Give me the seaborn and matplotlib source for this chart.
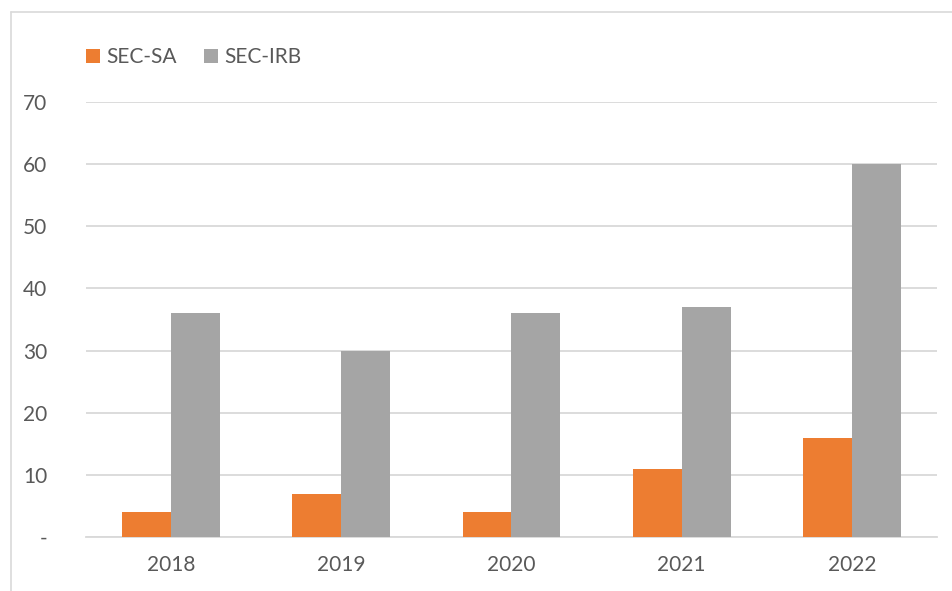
import matplotlib
matplotlib.use("Agg")
import matplotlib.pyplot as plt
import pandas as pd
import seaborn as sns
from matplotlib.lines import Line2D
from matplotlib.patches import Patch
from matplotlib.ticker import FuncFormatter

years = ["2018", "2019", "2020", "2021", "2022"]
series_names = ["SEC-SA", "SEC-IRB"]
sec_sa = [4, 7, 4, 11, 16]
sec_irb = [36, 30, 36, 37, 60]
colors = ["#ED7D31", "#A5A5A5"]

df = pd.DataFrame({
    "year": years * 2,
    "series": [series_names[0]] * len(years) + [series_names[1]] * len(years),
    "value": sec_sa + sec_irb,
})

sns.set_theme(style="white")
plt.rcParams["font.family"] = ["Lato", "DejaVu Sans"]
text_color = "#595959"
grid_color = "#D9D9D9"

W, H = 953, 591
fig = plt.figure(figsize=(W / 100, H / 100), dpi=100)
ax = fig.add_axes([86 / W, 1 - 537 / H, (937 - 86) / W, (537 - 102) / H])

sns.barplot(data=df, x="year", y="value", hue="series", palette=colors,
            width=0.575, saturation=1, linewidth=0, ax=ax, legend=False, zorder=3)

ax.set_ylim(0, 70)
ax.set_yticks(range(0, 71, 10))
ax.yaxis.set_major_formatter(FuncFormatter(lambda v, _: "-" if v == 0 else f"{v:.0f}"))
ax.grid(axis="y", color=grid_color, linewidth=1.3, zorder=0)
ax.set_axisbelow(True)
for side in ["top", "right", "left"]:
    ax.spines[side].set_visible(False)
ax.spines["bottom"].set_color(grid_color)
ax.spines["bottom"].set_linewidth(1.3)
ax.tick_params(axis="both", length=0, labelsize=15, labelcolor=text_color)
ax.tick_params(axis="y", pad=28)
ax.tick_params(axis="x", pad=13)
ax.set_xlabel("")
ax.set_ylabel("")

# chart-area border (only top and left edges visible in the crop)
fig.add_artist(Line2D([11 / W, 1], [1 - 12 / H, 1 - 12 / H], color=grid_color, linewidth=1.2))
fig.add_artist(Line2D([11 / W, 11 / W], [0, 1 - 12 / H], color=grid_color, linewidth=1.2))

handles = [Patch(facecolor=c, edgecolor="none") for c in colors]
fig.legend(handles, series_names, loc="center left", bbox_to_anchor=(86 / W, 1 - 57 / H),
           ncol=2, frameon=False, borderpad=0, borderaxespad=0,
           handlelength=0.67, handleheight=0.67, handletextpad=0.3,
           columnspacing=1.3, fontsize=15, labelcolor=text_color)

fig.savefig("out.png", dpi=100)
